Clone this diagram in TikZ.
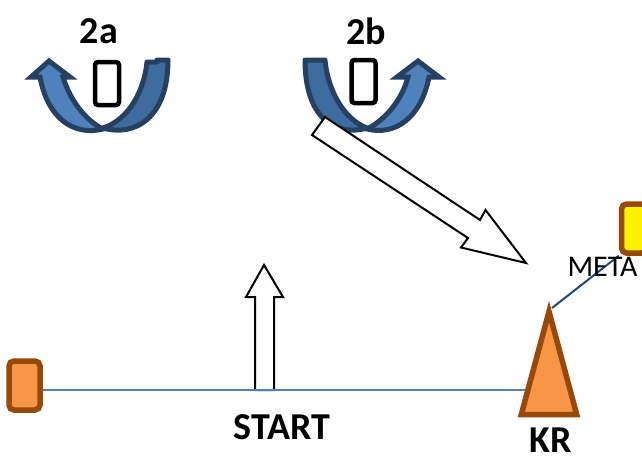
\documentclass[tikz,border=0pt]{standalone}
\usepackage{fontspec}
\setmainfont{Carlito}
\definecolor{bandfill}{HTML}{3E6C9F}
\definecolor{arrowfill}{HTML}{4F81BD}
\definecolor{bandline}{HTML}{254061}
\definecolor{brownline}{HTML}{984807}
\definecolor{orangefill}{HTML}{F79646}
\definecolor{lineblue}{HTML}{4F81BD}
\definecolor{linedark}{HTML}{1F497D}
\tikzset{
  band/.style={draw=bandline,fill=bandfill,line width=5pt,line join=round},
  turnarrow/.style={draw=bandline,fill=arrowfill,line width=5pt,line join=miter},
  slot/.style={draw=black,fill=white,line width=4.5pt,rounded corners=3pt,minimum width=24pt,minimum height=43pt,inner sep=0pt},
  stop/.style={draw=brownline,line width=5.5pt,rounded corners=5pt,inner sep=0pt,minimum width=31pt,minimum height=49pt},
  blockarrow/.style={draw=black,fill=white,line width=2pt,line join=miter},
  boldlabel/.style={font=\fontsize{38}{40}\selectfont\bfseries,inner sep=0pt},
  plainlabel/.style={font=\fontsize{30}{32}\selectfont,inner sep=0pt},
}
\begin{document}
\begin{tikzpicture}[x=1pt,y=-1pt]
\useasboundingbox (0,0) rectangle (642,455);
% 2a
\draw[band] (168,60) -- (157,60) -- (157,62) -- (147,62) .. controls (144,92) and (128,120) .. (103,128) .. controls (135,137) and (168,118) .. (168,60) -- cycle;
\draw[turnarrow] (49,61) -- (70,77) -- (63,77) .. controls (70,100) and (85,120) .. (103,129) .. controls (75,136) and (48,120) .. (40,77) -- (31,77) -- cycle;
\node[slot] (slota) at (107,83.5) {};
\node[boldlabel] (labela) at (99,31) {2a};
% 2b
\draw[band] (305,60) -- (325,60) .. controls (328,92) and (345,120) .. (367,128) .. controls (335,137) and (305,118) .. (305,60) -- cycle;
\draw[turnarrow] (418,61) -- (439,77) -- (429,77) .. controls (421,118) and (395,136) .. (367,129) .. controls (385,120) and (402,100) .. (408,77) -- (397,77) -- cycle;
\node[slot] (slotb) at (363.5,81.5) {};
\node[boldlabel] (labelb) at (366,31) {2b};
% block arrows
\draw[blockarrow] (325,117) -- (480,220) -- (485.5,210) -- (526,263) -- (461,247.5) -- (468,238) -- (312,135) -- cycle;
\draw[blockarrow] (264,265) -- (283,297) -- (274,297) -- (274,390) -- (255,390) -- (255,297) -- (246,297) -- cycle;
% connectors and stops
\node[stop,fill=orangefill] (start) at (24.5,385.5) {};
\coordinate (krleft) at (525,389.5);
\coordinate (krapex) at (552,308);
\draw[lineblue,line width=2pt] (start.east |- krleft) -- (krleft);
\draw[brownline,fill=orangefill,line width=5.5pt,line join=miter] (549,311.6) -- (576.7,414.5) -- (521.3,414.5) -- cycle;
\node[stop,fill=yellow,minimum width=25pt] (meta) at (634,228.5) {};
\draw[linedark,line width=2pt] (krapex) -- (meta.south west);
\node[plainlabel] (metalabel) at (602.5,267) {META};
\node[boldlabel] (startlabel) at (282,427) {START};
\node[boldlabel] (krlabel) at (551,440) {KR};
\end{tikzpicture}
\end{document}
